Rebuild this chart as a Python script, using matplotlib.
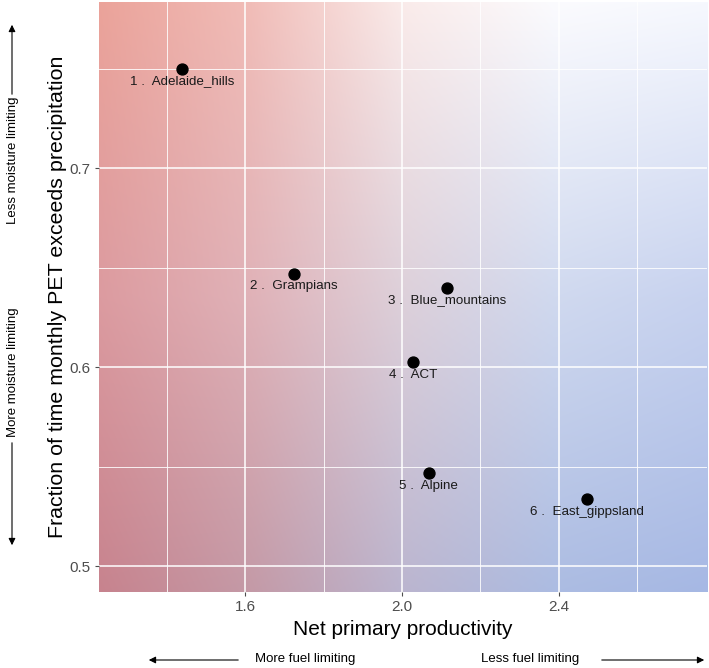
import numpy as np
import matplotlib
matplotlib.use("Agg")
import matplotlib.pyplot as plt
from matplotlib.colors import to_rgb

plt.rcParams["font.family"] = ["Liberation Sans", "DejaVu Sans"]

# --------------------------------------------------
# Data
# --------------------------------------------------
regions = ["Adelaide_hills", "Grampians", "Blue_mountains", "ACT", "Alpine", "East_gippsland"]
npp = [1.44, 1.725, 2.116, 2.028, 2.068, 2.471]
pet_frac = [0.750, 0.647, 0.640, 0.6025, 0.5466, 0.5336]

x_lim = (1.227, 2.778)
y_lim = (0.487, 0.7837)

# background colour grid (rows top -> bottom, cols left -> right)
bg_colors = [
    ["#EBA39A", "#F1BDB8", "#FAEBEA", "#FBFBFE", "#F6F8FE"],
    ["#DC9BA0", "#E0B2B8", "#DDD0DA", "#D0D9EF", "#C7D2EF"],
    ["#C7838E", "#C49AA7", "#BBB5CF", "#ACBCE2", "#A6B8E4"],
]

# --------------------------------------------------
# Figure
# --------------------------------------------------
fig = plt.figure(figsize=(7.09, 6.68), dpi=100)
ax = fig.add_axes([0.1396, 0.1138, 0.8576, 0.8832])

# smooth gradient background built from the colour grid
grid = np.array([[to_rgb(c) for c in row] for row in bg_colors])
nr, nc = grid.shape[:2]
n = 300
v = np.linspace(0, nr - 1, n)
u = np.linspace(0, nc - 1, n)
i0 = np.minimum(np.floor(v).astype(int), nr - 2)
j0 = np.minimum(np.floor(u).astype(int), nc - 2)
fv = (v - i0)[:, None, None]
fu = (u - j0)[None, :, None]
c00 = grid[i0][:, j0]
c01 = grid[i0][:, j0 + 1]
c10 = grid[i0 + 1][:, j0]
c11 = grid[i0 + 1][:, j0 + 1]
img = (c00 * (1 - fv) * (1 - fu) + c01 * (1 - fv) * fu
       + c10 * fv * (1 - fu) + c11 * fv * fu)
ax.imshow(img, extent=[x_lim[0], x_lim[1], y_lim[0], y_lim[1]],
          aspect="auto", origin="upper", zorder=0, interpolation="bilinear")

ax.set_xlim(*x_lim)
ax.set_ylim(*y_lim)

ax.set_xticks([1.6, 2.0, 2.4])
ax.set_xticklabels(["1.6", "2.0", "2.4"])
ax.set_xticks([1.4, 1.8, 2.2, 2.6], minor=True)
ax.set_yticks([0.5, 0.6, 0.7])
ax.set_yticklabels(["0.5", "0.6", "0.7"])
ax.set_yticks([0.55, 0.65, 0.75], minor=True)

ax.grid(which="major", color="white", linewidth=1.1, zorder=1)
ax.grid(which="minor", color="white", linewidth=0.6, zorder=1)
ax.set_axisbelow(False)
for s in ax.spines.values():
    s.set_visible(False)

ax.tick_params(axis="both", which="major", length=3, width=0.8, color="#4D4D4D",
               labelcolor="#4D4D4D", labelsize=11, pad=3)
ax.tick_params(axis="both", which="minor", length=0)

ax.set_xlabel("Net primary productivity", fontsize=15, color="black", labelpad=4)
ax.set_ylabel("Fraction of time monthly PET exceeds precipitation", fontsize=15.4,
              color="black", labelpad=2)

# points and labels
ax.scatter(npp, pet_frac, s=62, color="black", zorder=3)
for k, (name, x, y) in enumerate(zip(regions, npp, pet_frac), start=1):
    ax.annotate(f"{k} .  {name}", (x, y), xytext=(0, -9), textcoords="offset points",
                ha="center", va="center", fontsize=9.6, color="#1A1A1A", zorder=4)

# --------------------------------------------------
# Direction annotations outside the panel
# --------------------------------------------------
W, H = 709, 668


def fx(px):
    return px / W


def fy(py):
    return 1 - py / H


arrow_kw = dict(arrowstyle="-|>", color="black", lw=0.8, mutation_scale=10)

fig.patches.append(matplotlib.patches.FancyArrowPatch(
    (fx(12), fy(97)), (fx(12), fy(22)), transform=fig.transFigure, **arrow_kw))
fig.patches.append(matplotlib.patches.FancyArrowPatch(
    (fx(12), fy(440)), (fx(12), fy(548)), transform=fig.transFigure, **arrow_kw))
fig.text(fx(13), fy(160), "Less moisture limiting", rotation=90,
         ha="center", va="center", fontsize=9.5)
fig.text(fx(13), fy(372), "More moisture limiting", rotation=90,
         ha="center", va="center", fontsize=9.5)

fig.patches.append(matplotlib.patches.FancyArrowPatch(
    (fx(241), fy(660)), (fx(146), fy(660)), transform=fig.transFigure, **arrow_kw))
fig.patches.append(matplotlib.patches.FancyArrowPatch(
    (fx(599), fy(660)), (fx(707), fy(660)), transform=fig.transFigure, **arrow_kw))
fig.text(fx(305), fy(659), "More fuel limiting", ha="center", va="center", fontsize=9.5)
fig.text(fx(530), fy(659), "Less fuel limiting", ha="center", va="center", fontsize=9.5)

fig.savefig("out.png", dpi=100)
plt.close(fig)
